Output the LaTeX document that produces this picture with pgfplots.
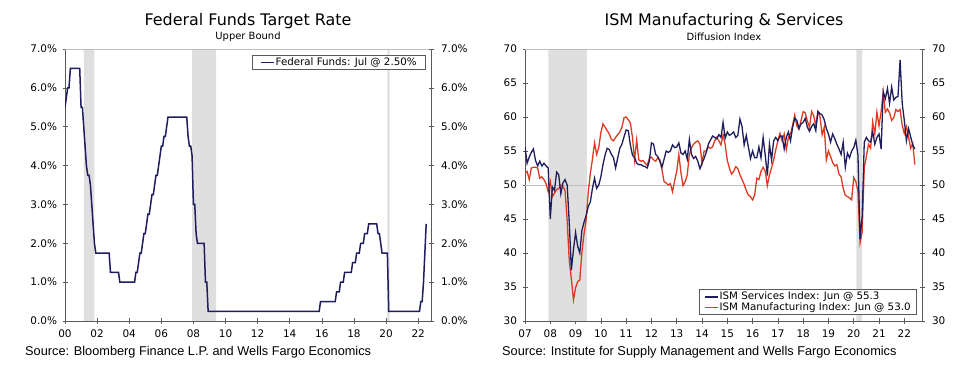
\documentclass[border=0pt]{standalone}
\usepackage{fontspec}
\setmainfont{DejaVu Sans}
\newfontfamily\srcfont{Liberation Sans}
\usepackage{pgfplots}
\pgfplotsset{compat=1.18}
\usepackage{pgfplotstable}
\definecolor{navy}{HTML}{1F1D5E}
\definecolor{ismred}{HTML}{DE3A22}
\definecolor{shade}{HTML}{DFDFDF}
\definecolor{axiscol}{HTML}{5A5A5A}
\definecolor{topcol}{HTML}{BDBDBD}

\pgfplotstableread{
x y
0.0000 5.50
0.0833 5.75
0.1667 6.00
0.2500 6.00
0.3333 6.50
0.9167 6.50
1.0000 5.50
1.0833 5.50
1.1667 5.00
1.2500 4.50
1.3333 4.00
1.4167 3.75
1.5000 3.75
1.5833 3.50
1.6667 3.00
1.7500 2.50
1.8333 2.00
1.9167 1.75
2.7500 1.75
2.8333 1.25
3.3333 1.25
3.4167 1.00
4.3333 1.00
4.4167 1.25
4.5000 1.25
4.5833 1.50
4.6667 1.75
4.7500 1.75
4.8333 2.00
4.9167 2.25
5.0000 2.25
5.0833 2.50
5.1667 2.75
5.2500 2.75
5.3333 3.00
5.4167 3.25
5.5000 3.25
5.5833 3.50
5.6667 3.75
5.7500 3.75
5.8333 4.00
5.9167 4.25
6.0000 4.50
6.0833 4.50
6.1667 4.75
6.2500 4.75
6.3333 5.00
6.4167 5.25
7.5833 5.25
7.6667 4.75
7.7500 4.50
7.8333 4.50
7.9167 4.25
8.0000 3.00
8.0833 3.00
8.1667 2.25
8.2500 2.00
8.6667 2.00
8.7500 1.00
8.8333 1.00
8.9167 0.25
15.8333 0.25
15.9167 0.50
16.8333 0.50
16.9167 0.75
17.0833 0.75
17.1667 1.00
17.3333 1.00
17.4167 1.25
17.8333 1.25
17.9167 1.50
18.0833 1.50
18.1667 1.75
18.3333 1.75
18.4167 2.00
18.5833 2.00
18.6667 2.25
18.8333 2.25
18.9167 2.50
19.4167 2.50
19.5000 2.25
19.5833 2.25
19.6667 2.00
19.7500 1.75
20.0833 1.75
20.1667 0.25
22.0833 0.25
22.1667 0.50
22.2500 0.50
22.3333 1.00
22.4167 1.75
22.5000 2.50
}\fedtable

\pgfplotstableread{
x s m
7.000 55.6 51.7
7.083 53.2 52.0
7.167 54.1 50.8
7.250 54.8 52.5
7.333 55.3 52.6
7.417 53.6 52.6
7.500 52.8 52.5
7.583 53.5 51.0
7.667 52.8 51.2
7.750 53.2 50.8
7.833 52.8 50.2
7.917 52.5 49.0
8.000 45.0 50.5
8.083 49.7 48.3
8.167 49.2 48.8
8.250 51.9 49.3
8.333 51.5 49.5
8.417 48.7 50.0
8.500 50.3 49.8
8.583 50.8 49.2
8.667 50.0 44.8
8.750 44.5 38.9
8.833 37.5 36.2
8.917 40.5 33.1
9.000 43.0 34.9
9.083 41.0 35.8
9.167 40.0 36.0
9.250 43.3 40.1
9.333 44.5 42.8
9.417 45.5 44.8
9.500 46.8 48.9
9.583 47.5 51.7
9.667 49.5 53.8
9.750 51.0 56.2
9.833 49.5 54.5
9.917 50.0 55.5
10.000 51.2 57.7
10.083 53.0 59.0
10.167 54.4 58.5
10.250 55.4 58.0
10.333 55.2 57.5
10.417 54.5 56.7
10.500 54.0 56.5
10.583 52.5 57.0
10.667 54.0 57.4
10.750 55.4 57.8
10.833 56.0 58.5
10.917 57.1 59.9
11.000 58.1 60.0
11.083 58.0 59.6
11.167 55.9 59.1
11.250 54.4 57.0
11.333 54.0 53.7
11.417 53.2 56.6
11.500 53.0 53.7
11.583 53.0 53.5
11.667 52.8 53.6
11.750 52.7 53.2
11.833 52.5 52.9
11.917 53.5 53.9
12.000 56.2 54.1
12.083 56.0 53.7
12.167 54.5 53.5
12.250 54.2 54.0
12.333 53.5 53.7
12.417 52.6 52.2
12.500 53.8 50.5
12.583 55.0 50.3
12.667 54.8 50.0
12.750 55.0 50.2
12.833 55.9 49.0
12.917 55.5 50.6
13.000 55.6 52.0
13.083 56.2 54.5
13.167 54.7 51.8
13.250 54.5 49.9
13.333 55.0 50.5
13.417 53.8 51.5
13.500 56.7 54.5
13.583 54.5 55.5
13.667 53.9 56.0
13.750 54.2 56.3
13.833 53.5 56.5
13.917 52.4 56.0
14.000 53.2 53.2
14.083 53.9 55.0
14.167 54.8 55.0
14.250 56.0 55.6
14.333 56.6 55.4
14.417 57.2 55.6
14.500 57.0 56.5
14.583 56.8 57.0
14.667 57.4 56.5
14.750 57.0 55.9
14.833 59.2 57.4
14.917 56.9 55.9
15.000 57.8 53.6
15.083 57.3 52.5
15.167 57.5 51.6
15.250 57.8 52.0
15.333 57.0 52.7
15.417 57.3 52.4
15.500 59.7 51.5
15.583 58.6 50.8
15.667 55.9 50.1
15.750 57.3 49.2
15.833 55.6 48.5
15.917 53.9 48.3
16.000 55.0 47.8
16.083 54.0 48.5
16.167 54.0 51.0
16.250 55.6 50.8
16.333 54.0 52.0
16.417 57.0 52.6
16.500 54.4 52.0
16.583 51.4 49.9
16.667 56.0 51.5
16.750 53.7 52.5
16.833 56.5 53.7
16.917 57.0 55.2
17.000 56.5 56.5
17.083 57.2 57.6
17.167 57.2 56.5
17.250 55.3 57.5
17.333 57.0 55.2
17.417 57.8 57.0
17.500 56.5 57.5
17.583 58.5 58.8
17.667 59.8 60.3
17.750 59.5 58.7
17.833 58.3 58.2
17.917 59.0 59.5
18.000 59.2 60.8
18.083 59.8 60.6
18.167 58.5 59.4
18.250 57.9 58.5
18.333 58.6 60.8
18.417 59.0 60.2
18.500 58.0 58.7
18.583 60.8 60.8
18.667 60.5 60.0
18.750 60.3 57.4
18.833 59.6 58.5
18.917 58.3 53.7
19.000 57.5 55.0
19.083 56.3 54.2
19.167 57.5 53.3
19.250 56.8 52.8
19.333 56.0 53.0
19.417 55.3 51.6
19.500 54.5 51.2
19.583 56.3 49.5
19.667 52.6 48.5
19.750 54.7 48.3
19.833 54.0 48.1
19.917 55.0 47.8
20.000 55.5 51.1
20.083 56.6 50.5
20.167 54.4 49.1
20.250 42.0 41.5
20.333 45.4 43.1
20.417 56.3 52.6
20.500 57.0 54.2
20.583 56.5 56.0
20.667 56.3 55.4
20.750 57.8 59.3
20.833 56.0 57.5
20.917 57.0 60.7
21.000 57.5 58.7
21.083 55.3 60.8
21.167 63.7 63.7
21.250 62.7 60.7
21.333 64.2 61.2
21.417 62.0 60.6
21.500 64.4 59.5
21.583 62.5 59.9
21.667 62.9 61.1
21.750 63.0 60.8
21.833 68.4 61.1
21.917 62.0 58.8
22.000 59.5 57.6
22.083 56.5 58.6
22.167 58.3 57.1
22.250 57.1 55.4
22.333 55.9 56.1
22.417 55.3 53.0
}\ismtable

\pgfplotsset{
  common/.style={
    scale only axis,
    axis line style={axiscol, line width=0.8bp, -},
    tick style={axiscol, line width=0.6bp},
    tick align=center,
    major tick length=5bp,
    ticklabel style={font=\fontsize{10.5}{12}\selectfont, text=black},
    xticklabel style={yshift=-3bp},
    /pgf/number format/assume math mode=true,
    clip=true,
  },
  legendsty/.style={
    legend style={font=\fontsize{10.3}{12}\selectfont, draw=axiscol, line width=0.6bp,
      inner xsep=5bp, inner ysep=1bp, row sep=-1.5bp,
      nodes={inner xsep=1bp, inner ysep=1.5bp}},
    legend cell align=left,
    legend image code/.code={\draw[##1, line width=1.5bp] (0bp,0bp) -- (13bp,0bp);},
  },
}

\begin{document}
\begin{tikzpicture}
\path[use as bounding box] (0bp,0bp) rectangle (980bp,380bp);

% ---------------- Left chart ----------------
\begin{axis}[common, legendsty,
  at={(65bp,59bp)}, anchor=south west, width=366bp, height=272bp,
  xmin=0, xmax=22.8, ymin=0, ymax=7,
  axis x line*=bottom, axis y line*=left,
  yticklabel style={xshift=-2bp},
  xtick={0,2,4,6,8,10,12,14,16,18,20,22},
  xticklabels={00,02,04,06,08,10,12,14,16,18,20,22},
  ytick={0,1,2,3,4,5,6,7},
  yticklabels={0.0\%,1.0\%,2.0\%,3.0\%,4.0\%,5.0\%,6.0\%,7.0\%},
  legend style={at={(rel axis cs:0.986,0.978)}, anchor=north east, inner xsep=8bp},
]
\addplot[fill=shade, draw=none, forget plot] coordinates {(1.17,0) (1.17,7) (1.83,7) (1.83,0)} \closedcycle;
\addplot[fill=shade, draw=none, forget plot] coordinates {(7.92,0) (7.92,7) (9.42,7) (9.42,0)} \closedcycle;
\addplot[fill=shade, draw=none, forget plot] coordinates {(20.08,0) (20.08,7) (20.22,7) (20.22,0)} \closedcycle;
\addplot[navy, line width=1.5bp] table[x=x, y=y] {\fedtable};
\addlegendentry{Federal Funds: Jul @ 2.50\%}
\draw[topcol, line width=0.8bp] (rel axis cs:0,1) -- (rel axis cs:1,1);
\end{axis}
\begin{axis}[common,
  at={(65bp,59bp)}, anchor=south west, width=366bp, height=272bp,
  xmin=0, xmax=22.8, ymin=0, ymax=7,
  axis x line=none, axis y line*=right,
  yticklabel style={xshift=4bp},
  ytick={0,1,2,3,4,5,6,7},
  yticklabels={0.0\%,1.0\%,2.0\%,3.0\%,4.0\%,5.0\%,6.0\%,7.0\%},
]
\addplot[draw=none] coordinates {(0,0)};
\end{axis}

\node[font=\fontsize{16}{19}\selectfont] at (248bp,359bp) {Federal Funds Target Rate};
\node[font=\fontsize{10}{12}\selectfont] at (248bp,343bp) {Upper Bound};
\node[font={\srcfont\fontsize{12.8}{14}\selectfont}, anchor=west, inner sep=0pt] at (25bp,28bp) {Source: Bloomberg Finance L.P. and Wells Fargo Economics};

% ---------------- Right chart ----------------
\begin{axis}[common, legendsty,
  at={(525bp,59bp)}, anchor=south west, width=397bp, height=272bp,
  xmin=7, xmax=22.7, ymin=30, ymax=70,
  axis x line*=bottom, axis y line*=left,
  yticklabel style={xshift=-2bp},
  xtick={7,8,...,22},
  xticklabels={07,08,09,10,11,12,13,14,15,16,17,18,19,20,21,22},
  ytick={30,35,...,70},
  legend style={at={(rel axis cs:0.987,0.022)}, anchor=south east},
  reverse legend,
]
\addplot[fill=shade, draw=none, forget plot] coordinates {(7.92,30) (7.92,70) (9.45,70) (9.45,30)} \closedcycle;
\addplot[fill=shade, draw=none, forget plot] coordinates {(20.1,30) (20.1,70) (20.33,70) (20.33,30)} \closedcycle;
\addplot[topcol, line width=0.9bp, forget plot] coordinates {(7,50) (22.7,50)};
\addplot[ismred, line width=1.3bp] table[x=x, y=m] {\ismtable};
\addlegendentry{ISM Manufacturing Index: Jun @ 53.0}
\addplot[navy, line width=1.3bp] table[x=x, y=s] {\ismtable};
\addlegendentry{ISM Services Index: Jun @ 55.3}
\draw[topcol, line width=0.8bp] (rel axis cs:0,1) -- (rel axis cs:1,1);
\end{axis}
\begin{axis}[common,
  at={(525bp,59bp)}, anchor=south west, width=397bp, height=272bp,
  xmin=7, xmax=22.7, ymin=30, ymax=70,
  axis x line=none, axis y line*=right,
  yticklabel style={xshift=4bp},
  ytick={30,35,...,70},
]
\addplot[draw=none] coordinates {(7,30)};
\end{axis}

\node[font=\fontsize{16}{19}\selectfont] at (724bp,359bp) {ISM Manufacturing \& Services};
\node[font=\fontsize{10}{12}\selectfont] at (724bp,343bp) {Diffusion Index};
\node[font={\srcfont\fontsize{12.8}{14}\selectfont}, anchor=west, inner sep=0pt] at (502bp,28bp) {Source: Institute for Supply Management and Wells Fargo Economics};
\end{tikzpicture}
\end{document}
